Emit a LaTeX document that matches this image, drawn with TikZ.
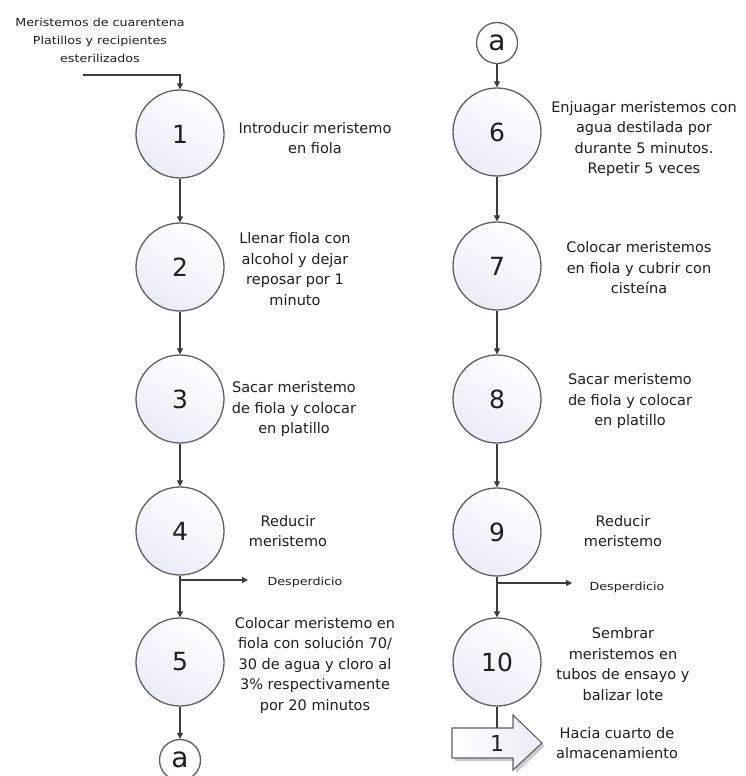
\documentclass[tikz,border=0pt]{standalone}
\usepackage{fontspec}
\setmainfont{DejaVu Sans}
\newfontfamily\widefont[FakeStretch=1.15]{DejaVu Sans}
\usetikzlibrary{arrows.meta}
\definecolor{circfill}{RGB}{234,236,247}
\definecolor{linegray}{RGB}{60,60,60}
\definecolor{circline}{RGB}{95,95,95}
\definecolor{txt}{RGB}{30,30,30}
\begin{document}
\begin{tikzpicture}[x=1pt,y=-1pt,
  stepcirc/.style={circle, draw=circline, line width=1.3pt, minimum size=88pt, inner sep=0pt,
    top color=white, bottom color=circfill, shading angle=-30, font=\fontsize{25}{25}\selectfont, text=txt},
  conn/.style={circle, draw=circline, line width=1.3pt, minimum size=41pt, inner sep=0pt,
    fill=white, font=\fontsize{28}{28}\selectfont, text=txt},
  lbl/.style={align=center, font=\fontsize{14.5}{20.5}\selectfont, text=txt, inner sep=0pt},
  small/.style={align=center, font=\widefont\fontsize{11}{18}\selectfont, text=txt, inner sep=0pt},
  flow/.style={draw=linegray, line width=1.1pt, -{Triangle[length=6pt,width=6pt]}},
  plain/.style={draw=linegray, line width=1.1pt}]
\useasboundingbox (0,0) rectangle (745,776);

% input
\node[small] (inp) at (100,40) {Meristemos de cuarentena\\Platillos y recipientes\\esterilizados};
\coordinate (inpstart) at (83,75);

% left column
\node[stepcirc] (c1) at (180,134) {1};
\node[stepcirc] (c2) at (180,267) {2};
\node[stepcirc] (c3) at (180,399) {3};
\node[stepcirc] (c4) at (180,531) {4};
\node[stepcirc] (c5) at (180,662) {5};
\node[conn] (a1) at (180,760) {a};
\coordinate (b4) at (180,580);
\coordinate (w4end) at (248,580);
\node[small] (w4) at (305,582) {Desperdicio};

% right column
\node[conn] (a2) at (497,43) {a};
\node[stepcirc] (c6) at (497,132) {6};
\node[stepcirc] (c7) at (497,266) {7};
\node[stepcirc] (c8) at (497,399) {8};
\node[stepcirc] (c9) at (497,532) {9};
\node[stepcirc] (c10) at (497,662) {10};
\coordinate (b9) at (497,583);
\coordinate (w9end) at (572,583);
\node[small] (w9) at (627,587) {Desperdicio};

% labels
\node[lbl] (l1) at (315,138) {Introducir meristemo\\en fiola};
\node[lbl] (l2) at (295,269) {Llenar fiola con\\alcohol y dejar\\reposar por 1\\minuto};
\node[lbl] (l3) at (294,409) {Sacar meristemo\\de fiola y colocar\\en platillo};
\node[lbl] (l4) at (288,531) {Reducir\\meristemo};
\node[lbl] (l5) at (315,665) {Colocar meristemo en\\fiola con solución 70/\\30 de agua y cloro al\\3\% respectivamente\\por 20 minutos};
\node[lbl] (l6) at (644,139) {Enjuagar meristemos con\\agua destilada por\\durante 5 minutos.\\Repetir 5 veces};
\node[lbl] (l7) at (639,268) {Colocar meristemos\\en fiola y cubrir con\\cisteína};
\node[lbl] (l8) at (630,401) {Sacar meristemo\\de fiola y colocar\\en platillo};
\node[lbl] (l9) at (623,531) {Reducir\\meristemo};
\node[lbl] (l10) at (623,664) {Sembrar\\meristemos en\\tubos de ensayo y\\balizar lote};
\node[lbl] (l11) at (617,743) {Hacia cuarto de\\almacenamiento};

% block arrow (storage)
\fill[gray!40] (455,731) -- (516,731) -- (516,718) -- (545,746) -- (516,773) -- (516,761) -- (455,761) -- cycle;
\draw[circline, line width=1.1pt, left color=white, right color=circfill]
  (452,728) -- (513,728) -- (513,715) -- (542,743) -- (513,770) -- (513,758) -- (452,758) -- cycle;
\node[font=\fontsize{22}{22}\selectfont, text=txt, inner sep=0pt] (st) at (497,743) {1};
\coordinate (sttop) at (497,728);

% connectors
\draw[flow] (inpstart) -| (c1.north);
\draw[flow] (c1) -- (c2);
\draw[flow] (c2) -- (c3);
\draw[flow] (c3) -- (c4);
\draw[flow] (c4) -- (c5);
\draw[flow] (b4) -- (w4end);
\draw[flow] (c5) -- (a1);
\draw[flow] (a2) -- (c6);
\draw[flow] (c6) -- (c7);
\draw[flow] (c7) -- (c8);
\draw[flow] (c8) -- (c9);
\draw[flow] (c9) -- (c10);
\draw[flow] (b9) -- (w9end);
\draw[plain] (c10) -- (sttop);
\end{tikzpicture}
\end{document}
